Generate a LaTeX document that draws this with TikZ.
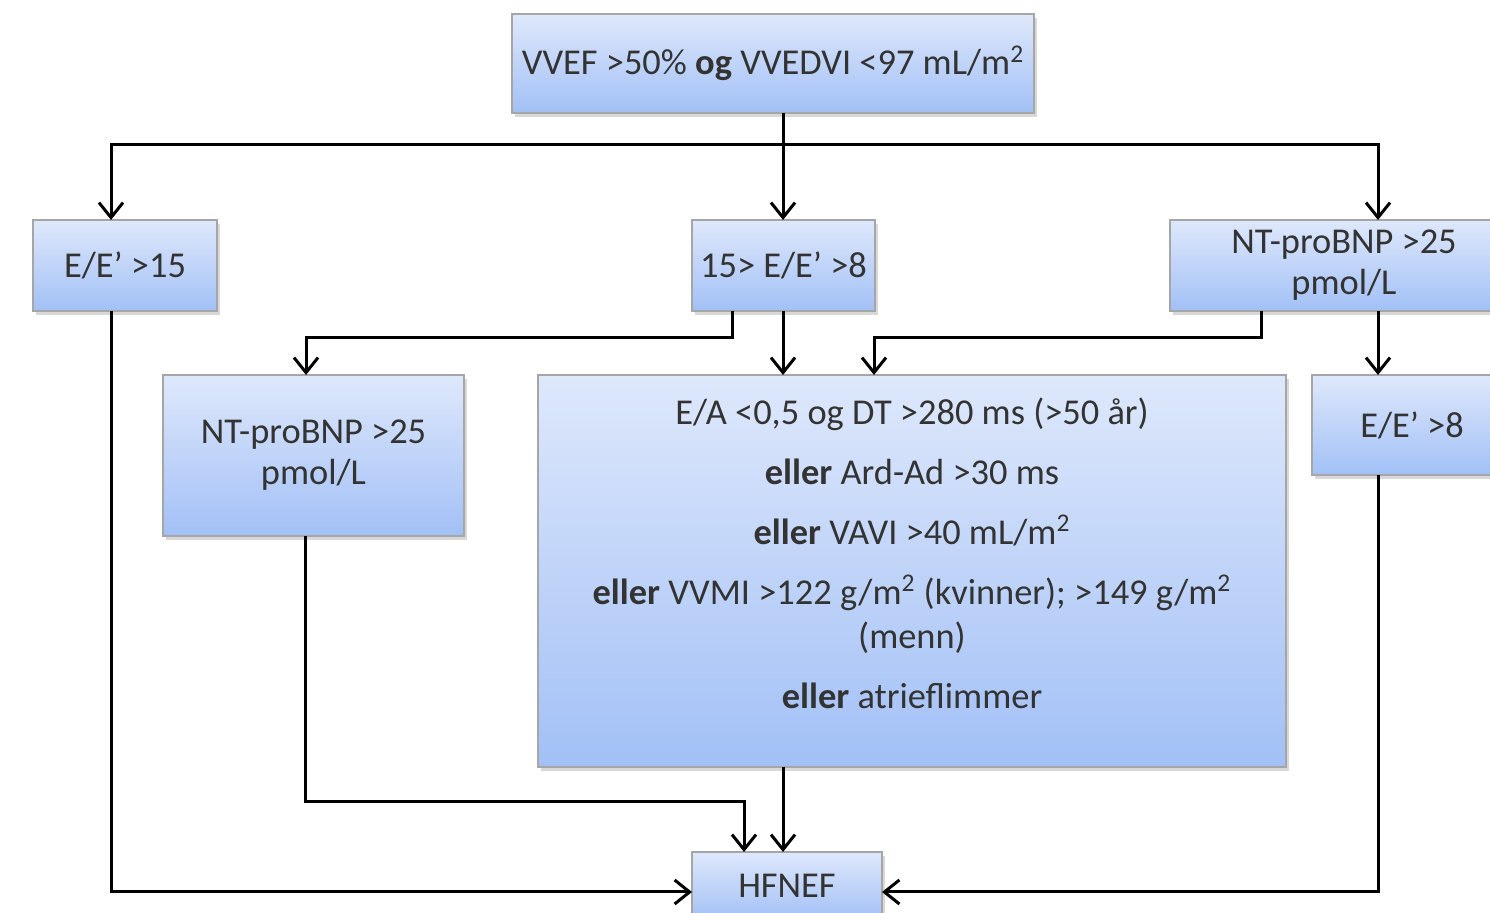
\documentclass[tikz,border=0pt]{standalone}
\usepackage{fontspec}
\setmainfont{Carlito}
\usetikzlibrary{arrows.meta,calc,shadows}

\definecolor{boxtop}{HTML}{DEE8FB}
\definecolor{boxbot}{HTML}{A2C0F6}
\definecolor{boxline}{HTML}{A6A6A6}

\tikzset{every picture/.style={line width=1.5pt}}
\tikzset{
	crit/.style={draw=boxline, line width=0.6pt, top color=boxtop, bottom color=boxbot,
		inner sep=0pt, outer sep=0pt, align=center, text=black!80,
		font=\fontsize{18.2}{20.5}\selectfont,
		drop shadow={opacity=0.3, shadow xshift=1.5pt, shadow yshift=-2pt}},
	arr/.style={-{Straight Barb[length=7.5pt,width=12pt]}, line width=1.5pt},
	ln/.style={line width=1.5pt}
}

\begin{document}
\begin{tikzpicture}[x=0.5pt,y=0.5pt,yscale=-1,xscale=1]
	\clip (0,0) rectangle (1490,913);
	\fill[white] (0,0) rectangle (1490,913);
	
	%Boxes
	\node [crit, minimum width=261pt, minimum height=49.5pt] (top) at (773,63.5) {VVEF >50\% \textbf{og} VVEDVI <97 mL/m\textsuperscript{2}};
	\node [crit, minimum width=92pt, minimum height=45.5pt] (ee15) at (125,265.5) {E/E’ >15};
	\node [crit, minimum width=91.5pt, minimum height=45.5pt] (mid) at (783.5,265.5) {15> E/E’ >8};
	\node [crit, minimum width=174pt, minimum height=45.5pt] (bnpR) at (1344,265.5) {NT-proBNP >25\\pmol/L};
	\node [crit, minimum width=150.5pt, minimum height=80.5pt] (bnpL) at (313.5,455.5) {NT-proBNP >25\\pmol/L};
	\node [crit, minimum width=374pt, minimum height=196pt, font=\fontsize{18.2}{22}\selectfont] (ecco) at (912,571) {E/A <0,5 og DT >280 ms (>50 år)\\[8pt]
		\textbf{eller} Ard-Ad >30 ms\\[8pt]
		\textbf{eller} VAVI >40 mL/m\textsuperscript{2}\\[8pt]
		\textbf{eller} VVMI >122 g/m\textsuperscript{2} (kvinner); >149 g/m\textsuperscript{2}\\(menn)\\[8pt]
		\textbf{eller} atrieflimmer\\[-4pt]\mbox{}};
	\node [crit, minimum width=100pt, minimum height=50pt] (ee8R) at (1412,425) {E/E’ >8};
	\node [crit, minimum width=95pt, minimum height=34pt] (hfnef) at (787,886) {HFNEF};
	
	%Connectors
	\coordinate (split) at (783,145);
	\coordinate (colR) at (1378,145);
	\draw [ln] (top.south -| split) -- (split);
	\draw [arr] (split) -- (split |- mid.north);
	\draw [arr] (split) -| (ee15.north -| 111,0);
	\draw [arr] (split) -| (bnpR.north -| colR);
	
	\draw [arr] ($(mid.south)+(-51.5,0)$) |- (600,338) -| ($(bnpL.north)+(-7.5,0)$);
	\draw [arr] (mid.south -| split) -- (ecco.north -| split);
	\draw [arr] ($(bnpR.south)+(-83,0)$) |- (1000,338) -| ($(ecco.north)+(-38,0)$);
	\draw [arr] (bnpR.south -| colR) -- (ee8R.north -| colR);
	
	\draw [arr] (ee15.south -| 111,0) |- ($(hfnef.west)+(0,6)$);
	\draw [arr] ($(bnpL.south)+(-8.5,0)$) |- (744,802) -- ($(hfnef.north)+(-43,0)$);
	\draw [arr] (ecco.south -| split) -- (hfnef.north -| split);
	\draw [arr] (ee8R.south -| colR) |- ($(hfnef.east)+(0,6)$);
	
\end{tikzpicture}
\end{document}
